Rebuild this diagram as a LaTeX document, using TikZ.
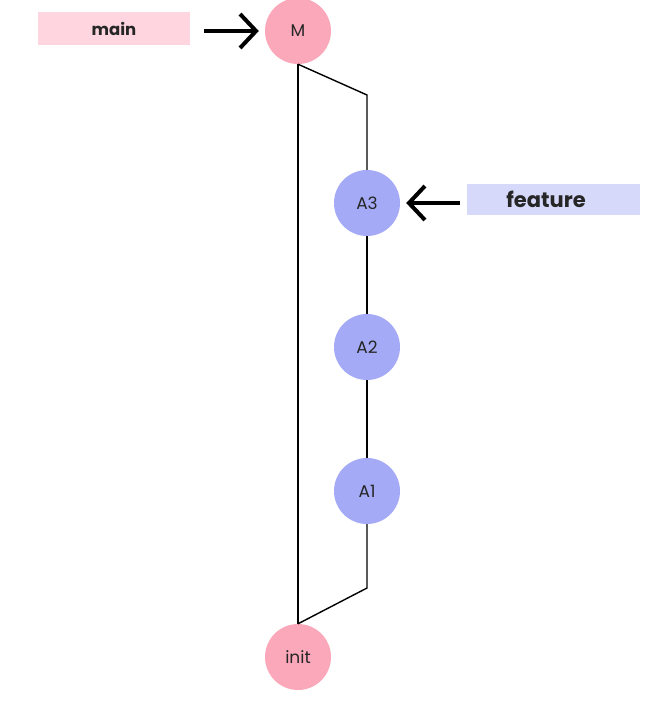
\documentclass[tikz,border=0pt]{standalone}
\usepackage{fontspec}
\setsansfont{Poppins}
\usetikzlibrary{arrows.meta}
\definecolor{mainpink}{RGB}{251,168,186}
\definecolor{mainbox}{RGB}{255,214,224}
\definecolor{featblue}{RGB}{164,170,246}
\definecolor{featbox}{RGB}{214,217,250}
\begin{document}
\begin{tikzpicture}[x=1pt, y=-1pt,
  commit/.style={circle, minimum size=66pt, inner sep=0pt, text=black!85, font=\sffamily\fontsize{17}{20}\selectfont},
  branchbox/.style={minimum height=33pt, inner sep=0pt, text=black!85},
  pointer/.style={line width=4pt, shorten >=6pt, -{Straight Barb[length=16pt, width=34pt]}},
  edge/.style={line width=1.4pt}]
\useasboundingbox (0,0) rectangle (670,706);
% commits
\node[commit, fill=mainpink] (M) at (298,31){M};
\node[commit, fill=featblue] (A3) at (367,203){A3};
\node[commit, fill=featblue] (A2) at (367,347){A2};
\node[commit, fill=featblue] (A1) at (367,491){A1};
\node[commit, fill=mainpink] (init) at (298,657){init};
% bends of the feature line
\coordinate (top) at (367,95);
\coordinate (bot) at (367,588);
\draw[edge](M.south) -- (top) -- (A3);
\draw[edge](A3) -- (A2);
\draw[edge](A2) -- (A1);
\draw[edge](A1) -- (bot) -- (init.north);
\draw[edge](M.south) -- (init.north);
% branch names
\node[branchbox, fill=mainbox, minimum width=152pt, font=\sffamily\bfseries\fontsize{16.5}{19}\selectfont] (main) at (114,29){main};
\node[branchbox, fill=featbox, minimum width=173pt, minimum height=31pt, font=\sffamily\bfseries\fontsize{21}{24}\selectfont] (feature) at (553,199){\hspace*{-14pt}feature};
\coordinate (mainend) at (204,31);
\coordinate (featend) at (460,203);
\draw[pointer](mainend) -- (M);
\draw[pointer](featend) -- (A3);
\end{tikzpicture}
\end{document}
